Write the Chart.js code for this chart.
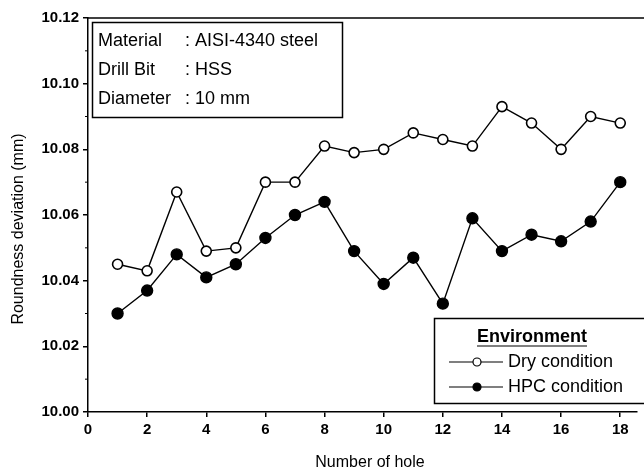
<!DOCTYPE html>
<html>
<head>
<meta charset="utf-8">
<script src="https://cdn.jsdelivr.net/npm/chart.js@4.4.0/dist/chart.umd.min.js"></script>
<style>
  html, body { margin: 0; padding: 0; background: #fff; }
  #wrap { width: 644px; height: 472px; }
</style>
</head>
<body>
<div id="wrap"><canvas id="roundness"></canvas></div>
<script>
const holes = [1, 2, 3, 4, 5, 6, 7, 8, 9, 10, 11, 12, 13, 14, 15, 16, 17, 18];
const dryValues = [10.045, 10.043, 10.067, 10.049, 10.050, 10.070, 10.070, 10.081, 10.079,
  10.080, 10.085, 10.083, 10.081, 10.093, 10.088, 10.080, 10.090, 10.088];
const hpcValues = [10.030, 10.037, 10.048, 10.041, 10.045, 10.053, 10.060, 10.064, 10.049,
  10.039, 10.047, 10.033, 10.059, 10.049, 10.054, 10.052, 10.058, 10.070];
const xTicks = [0, 2, 4, 6, 8, 10, 12, 14, 16, 18];
const yTicks = [10.00, 10.02, 10.04, 10.06, 10.08, 10.10, 10.12];
const infoLines = [
  ['Material', ': AISI-4340 steel'],
  ['Drill Bit', ': HSS'],
  ['Diameter', ': 10 mm']
];
const legendTitle = 'Environment';
const seriesNames = ['Dry condition', 'HPC condition'];
const xTitle = 'Number of hole';
const yTitle = 'Roundness deviation (mm)';

const FONT = '"Liberation Sans", Arial, sans-serif';

function toPoints(vals) {
  return vals.map((v, i) => ({ x: holes[i], y: v }));
}

// info box, legend box, axis titles, top frame line and minor ticks
const extras = {
  id: 'extras',
  afterDraw(chart) {
    const c = chart.ctx;
    const area = chart.chartArea;
    const ys = chart.scales.y;
    c.save();
    c.strokeStyle = '#000';
    c.fillStyle = '#000';

    // top frame
    c.lineWidth = 1.5;
    c.beginPath();
    c.moveTo(area.left, area.top);
    c.lineTo(644, area.top);
    c.stroke();

    // minor ticks on y
    c.lineWidth = 1;
    for (let k = 0; k < yTicks.length - 1; k++) {
      const py = ys.getPixelForValue((yTicks[k] + yTicks[k + 1]) / 2);
      c.beginPath();
      c.moveTo(area.left - 3, py);
      c.lineTo(area.left, py);
      c.stroke();
    }

    // axis titles
    c.textBaseline = 'middle';
    c.textAlign = 'center';
    c.font = '16px ' + FONT;
    c.fillText(xTitle, 370, 463);
    c.save();
    c.translate(19, 229);
    c.rotate(-Math.PI / 2);
    c.fillText(yTitle, 0, 0);
    c.restore();

    // info box
    c.lineWidth = 1.5;
    c.strokeRect(92.5, 22.5, 250, 95);
    c.font = '18px ' + FONT;
    c.textAlign = 'left';
    infoLines.forEach((ln, i) => {
      const py = 41 + i * 29;
      c.fillText(ln[0], 98, py);
      c.fillText(ln[1], 185, py);
    });

    // legend box
    c.strokeRect(434.5, 318.5, 212, 85);
    c.font = 'bold 18px ' + FONT;
    c.textAlign = 'center';
    c.fillText(legendTitle, 532, 337);
    const tw = c.measureText(legendTitle).width;
    c.lineWidth = 1.2;
    c.beginPath();
    c.moveTo(532 - tw / 2, 346);
    c.lineTo(532 + tw / 2, 346);
    c.stroke();

    c.font = '18px ' + FONT;
    c.textAlign = 'left';
    seriesNames.forEach((name, i) => {
      const py = 362 + i * 25;
      c.lineWidth = 1.2;
      c.beginPath();
      c.moveTo(449, py);
      c.lineTo(503, py);
      c.stroke();
      c.beginPath();
      c.arc(477, py, 4, 0, Math.PI * 2);
      c.fillStyle = i === 0 ? '#fff' : '#000';
      c.fill();
      c.stroke();
      c.fillStyle = '#000';
      c.fillText(name, 508, py);
    });
    c.restore();
  }
};

const ctx = document.getElementById('roundness').getContext('2d');
const roundnessChart = new Chart(ctx, {
  type: 'line',
  data: {
    datasets: [{
      label: seriesNames[0],
      data: toPoints(dryValues),
      borderColor: '#000',
      borderWidth: 1.4,
      pointBackgroundColor: '#fff',
      pointBorderColor: '#000',
      pointBorderWidth: 1.6,
      pointRadius: 5,
      tension: 0
    }, {
      label: seriesNames[1],
      data: toPoints(hpcValues),
      borderColor: '#000',
      borderWidth: 1.4,
      pointBackgroundColor: '#000',
      pointBorderColor: '#000',
      pointRadius: 5.5,
      tension: 0
    }]
  },
  options: {
    responsive: true,
    maintainAspectRatio: false,
    animation: false,
    layout: { padding: { top: 18, right: 0, left: 0, bottom: 0 } },
    plugins: {
      legend: { display: false },
      tooltip: { enabled: false }
    },
    scales: {
      x: {
        type: 'linear',
        min: 0,
        max: 18.57,
        afterFit(scale) { scale.height = 60; },
        afterBuildTicks(scale) {
          scale.ticks = xTicks.map(v => ({ value: v }));
        },
        grid: { display: true, drawOnChartArea: false, drawTicks: true, tickLength: 5, color: '#000', lineWidth: 1.5 },
        border: { display: true, color: '#000', width: 1.5 },
        ticks: {
          color: '#000',
          font: { family: FONT, size: 15, weight: 'bold' },
          padding: 4,
          maxRotation: 0
        }
      },
      y: {
        min: 10.0,
        max: 10.12,
        afterFit(scale) { scale.width = 88; },
        afterBuildTicks(scale) {
          scale.ticks = yTicks.map(v => ({ value: v }));
        },
        grid: { display: true, drawOnChartArea: false, drawTicks: true, tickLength: 5, color: '#000', lineWidth: 1.5 },
        border: { display: true, color: '#000', width: 1.5 },
        ticks: {
          color: '#000',
          font: { family: FONT, size: 15, weight: 'bold' },
          padding: 4,
          callback: v => Number(v).toFixed(2)
        }
      }
    }
  },
  plugins: [extras]
});
</script>
</body>
</html>
